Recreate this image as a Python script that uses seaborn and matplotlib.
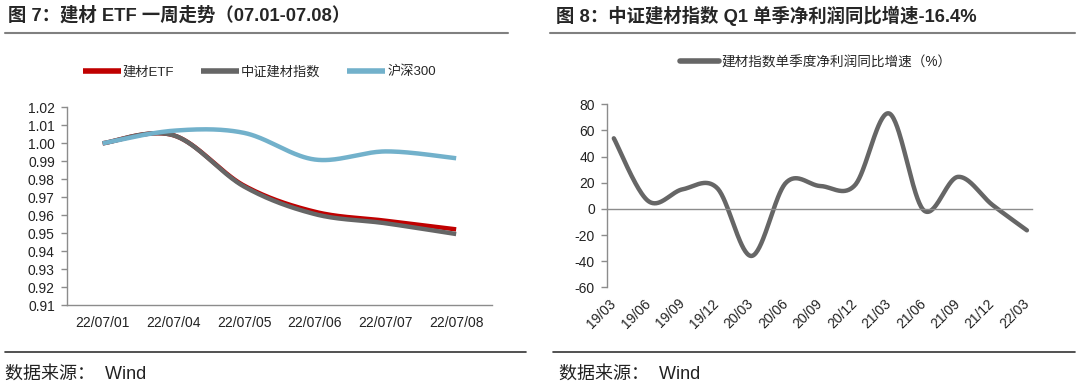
import numpy as np
import pandas as pd
import seaborn as sns
import matplotlib.pyplot as plt
from matplotlib.lines import Line2D

# 图7 数据
dates = ["22/07/01", "22/07/04", "22/07/05", "22/07/06", "22/07/07", "22/07/08"]
etf = [1.000, 1.0045, 0.9765, 0.9620, 0.9570, 0.9522]
index_jc = [1.000, 1.0045, 0.9760, 0.9607, 0.9556, 0.9496]
hs300 = [1.000, 1.0070, 1.0058, 0.9910, 0.9955, 0.9917]
names = ["建材ETF", "中证建材指数", "沪深300"]

# 图8 数据
quarters = ["19/03", "19/06", "19/09", "19/12", "20/03", "20/06", "20/09",
            "20/12", "21/03", "21/06", "21/09", "21/12", "22/03"]
profit_yoy = [54, 6, 15, 16, -36, 20, 17.5, 18, 73, -1, 24.5, 3, -16.4]

RED = "#c00000"
GRAY = "#666666"
BLUE = "#72b1cb"
AXC = "#8c8c8c"


def smooth(vals, n=40):
    # excel style smoothed line: bezier segments, catmull-rom control points
    y = np.asarray(vals, float)
    x = np.arange(len(y), dtype=float)
    pts = np.column_stack([x, y])
    t = np.linspace(0, 1, n)[:, None]
    out = []
    for i in range(len(y) - 1):
        pm = pts[max(i - 1, 0)]
        p0, p1 = pts[i], pts[i + 1]
        pp = pts[min(i + 2, len(y) - 1)]
        c1 = p0 + (p1 - pm) / 6
        c2 = p1 - (pp - p0) / 6
        seg = (1 - t) ** 3 * p0 + 3 * (1 - t) ** 2 * t * c1 + 3 * (1 - t) * t ** 2 * c2 + t ** 3 * p1
        out.append(seg if i == 0 else seg[1:])
    out = np.vstack(out)
    return pd.DataFrame({"x": out[:, 0], "y": out[:, 1]})


sns.set_theme(style="white")
plt.rcParams["font.family"] = ["Liberation Sans", "Noto Sans CJK SC"]
plt.rcParams["axes.unicode_minus"] = False

fig = plt.figure(figsize=(10.8, 3.88), dpi=100)

# ---- 左图 ----
ax1 = fig.add_axes([0.0623, 0.2131, 0.3928, 0.5103])
for vals, c, lab in zip([etf, index_jc, hs300], [RED, GRAY, BLUE], names):
    sns.lineplot(data=smooth(vals), x="x", y="y", sort=False, color=c,
                 linewidth=3.2, label=lab, ax=ax1, solid_capstyle="butt")
ax1.set_xlim(-0.5, 5.5)
ax1.set_ylim(0.91, 1.02)
ax1.set_yticks(np.arange(0.91, 1.0201, 0.01))
ax1.yaxis.set_major_formatter(plt.FormatStrFormatter("%.2f"))
ax1.set_xticks(range(len(dates)), dates)
ax1.set_xticks(np.arange(len(dates) + 1) - 0.5, minor=True)
ax1.tick_params(axis="x", which="major", length=0, pad=8, labelsize=10, labelcolor="#222222")
ax1.tick_params(axis="x", which="minor", length=4, width=1, color=AXC, direction="out")
ax1.tick_params(axis="y", length=4, width=1, color=AXC, direction="out", pad=5,
                labelsize=10, labelcolor="#222222", left=True)
ax1.set_xlabel("")
ax1.set_ylabel("")
for s in ["top", "right"]:
    ax1.spines[s].set_visible(False)
for s in ["left", "bottom"]:
    ax1.spines[s].set_color(AXC)
    ax1.spines[s].set_linewidth(1)
ax1.legend(loc="center", bbox_to_anchor=(0.24, 0.814), bbox_transform=fig.transFigure,
           ncol=3, frameon=False, fontsize=9.5, handlelength=2.9, handletextpad=0.15,
           columnspacing=2.0)
for h in ax1.get_legend().get_lines():
    h.set_linewidth(4)

# ---- 右图 ----
ax2 = fig.add_axes([0.5623, 0.2595, 0.393, 0.4716])
sns.lineplot(data=smooth(profit_yoy), x="x", y="y", sort=False, color=GRAY,
             linewidth=3.2, label="建材指数单季度净利润同比增速（%）", ax=ax2)
ax2.set_xlim(-0.19, 12.14)
ax2.set_ylim(-60, 80)
ax2.set_yticks(range(-60, 81, 20))
ax2.set_xticks([])
ax2.set_xticks(np.arange(1, len(quarters)) - 0.17, minor=True)
ax2.spines["bottom"].set_position(("data", 0))
ax2.tick_params(axis="x", which="minor", length=4, width=1, color=AXC, direction="out")
ax2.tick_params(axis="y", length=4, width=1, color=AXC, direction="out", pad=5,
                labelsize=10, labelcolor="#222222", left=True)
ax2.set_xlabel("")
ax2.set_ylabel("")
for s in ["top", "right"]:
    ax2.spines[s].set_visible(False)
for s in ["left", "bottom"]:
    ax2.spines[s].set_color(AXC)
    ax2.spines[s].set_linewidth(1)
sec = ax2.secondary_xaxis("bottom")
sec.set_xticks(range(len(quarters)), quarters)
sec.tick_params(length=0, pad=10, labelsize=10, labelcolor="#222222")
plt.setp(sec.get_xticklabels(), rotation=45, ha="right", va="center", rotation_mode="anchor")
sec.spines["bottom"].set_visible(False)
ax2.legend(loc="center", bbox_to_anchor=(0.755, 0.84), bbox_transform=fig.transFigure,
           frameon=False, fontsize=9.8, handlelength=2.9, handletextpad=0.15)
for h in ax2.get_legend().get_lines():
    h.set_linewidth(4)

# ---- 标题、分隔线、来源 ----
fig.text(0.007, 0.96, "图 7：建材 ETF 一周走势（07.01-07.08）", fontsize=13.2,
         fontweight="bold", color="#262626", va="center")
fig.text(0.515, 0.96, "图 8：中证建材指数 Q1 单季净利润同比增速-16.4%", fontsize=13.2,
         fontweight="bold", color="#262626", va="center")
for x0, x1 in [(0.005, 0.47), (0.509, 0.995)]:
    fig.add_artist(Line2D([x0, x1], [0.916, 0.916], transform=fig.transFigure,
                          color="#808080", linewidth=1.5))
for x0, x1 in [(0.005, 0.487), (0.512, 0.995)]:
    fig.add_artist(Line2D([x0, x1], [0.093, 0.093], transform=fig.transFigure,
                          color="#333333", linewidth=1.2))
fig.text(0.005, 0.036, "数据来源：  Wind", fontsize=13, color="#222222", va="center")
fig.text(0.518, 0.036, "数据来源：  Wind", fontsize=13, color="#222222", va="center")

fig.savefig("out.png", dpi=100)
